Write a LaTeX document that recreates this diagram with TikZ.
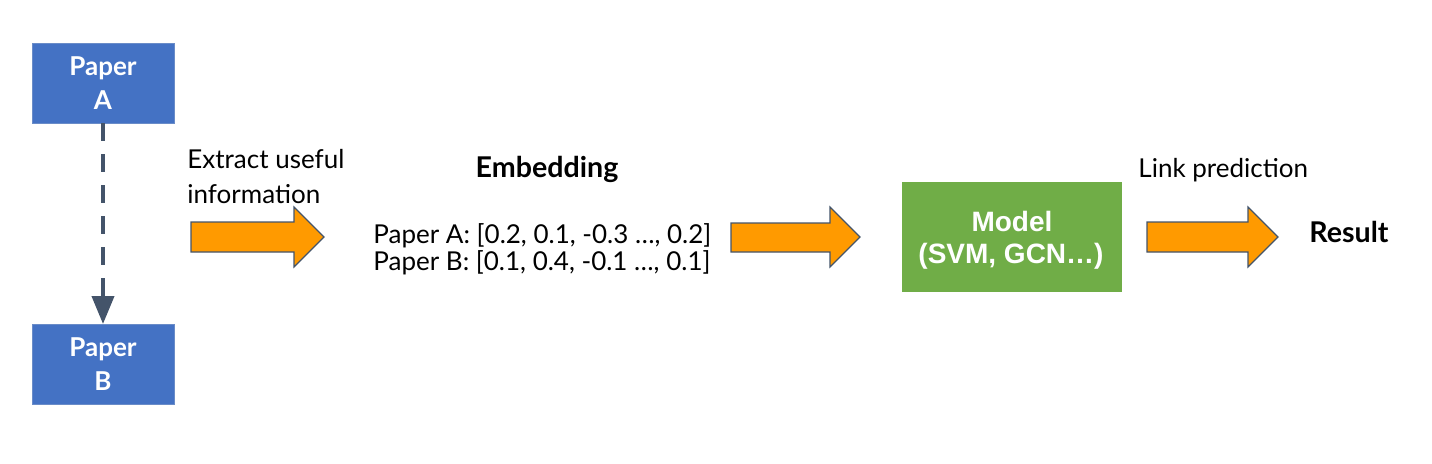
\documentclass[tikz,border=0pt]{standalone}
\usepackage{fontspec}
\setmainfont{Lato}
\newfontfamily\arialfont{Liberation Sans}
\usetikzlibrary{arrows.meta}
\definecolor{paperblue}{HTML}{4472C4}
\definecolor{paperedge}{HTML}{6A8CC8}
\definecolor{modelgreen}{HTML}{70AD47}
\definecolor{arroworange}{HTML}{FF9A00}
\definecolor{slate}{HTML}{44546A}
\tikzset{
  paperbox/.style={fill=paperblue,draw=paperedge,line width=0.5pt},
  papertext/.style={text=white,font=\fontsize{13}{17}\selectfont\bfseries,align=center,inner sep=0pt},
  bodytext/.style={font=\fontsize{13}{17.5}\selectfont,inner sep=0pt},
  boldtext/.style={font=\fontsize{14.3}{16}\selectfont\bfseries,inner sep=0pt},
  modeltext/.style={text=white,font=\arialfont\fontsize{14}{16}\selectfont\bfseries,anchor=base,inner sep=0pt},
  blockarrow/.style={fill=arroworange,draw=slate,line width=0.6pt,line join=miter},
  dashlink/.style={draw=slate,line width=2pt,dash pattern=on 9pt off 6.5pt,-{Triangle[length=14pt,width=11pt]}}
}
\begin{document}
\begin{tikzpicture}[x=0.5pt,y=-0.5pt]
\useasboundingbox (0,0) rectangle (1432,463);
% Paper boxes
\draw[paperbox] (32,43) rectangle (174,123);
\node[papertext] (pa) at (103,83) {Paper\\A};
\coordinate (paBot) at (103,123);
\draw[paperbox] (32,324) rectangle (174,404);
\node[papertext] (pb) at (103,364) {Paper\\B};
\coordinate (pbTop) at (103,324);
\draw[dashlink] (paBot) -- (pbTop);
% Extract text
\node[bodytext,anchor=base west] (ex1) at (187,168) {Extract useful};
\node[bodytext,anchor=base west] (ex2) at (187,203) {information};
% Arrow 1
\draw[blockarrow] (191,222) -- (294,222) -- (294,207) -- (324,237) -- (294,267) -- (294,252) -- (191,252) -- cycle;
% Embedding
\node[boldtext,anchor=base] (emb) at (547,177) {Embedding};
\node[bodytext,anchor=base west] (ea) at (373,243) {Paper A: [0.2, 0.1, -0.3 …, 0.2]};
\node[bodytext,anchor=base west] (eb) at (373,270) {Paper B: [0.1, 0.4, -0.1 …, 0.1]};
% Arrow 2
\draw[blockarrow] (731,223) -- (830,223) -- (830,207) -- (860,237) -- (830,267) -- (830,252) -- (731,252) -- cycle;
% Model
\fill[modelgreen] (902,182) rectangle (1122,292);
\node[modeltext] (m1) at (1012,231) {Model};
\node[modeltext] (m2) at (1011,263) {(SVM, GCN…)};
% Link prediction
\node[bodytext,anchor=base west] (lp) at (1138,177) {Link prediction};
% Arrow 3
\draw[blockarrow] (1147,222) -- (1248,222) -- (1248,207) -- (1278,237) -- (1248,267) -- (1248,252) -- (1147,252) -- cycle;
% Result
\node[boldtext,anchor=base west] (res) at (1309,242) {Result};
\end{tikzpicture}
\end{document}
